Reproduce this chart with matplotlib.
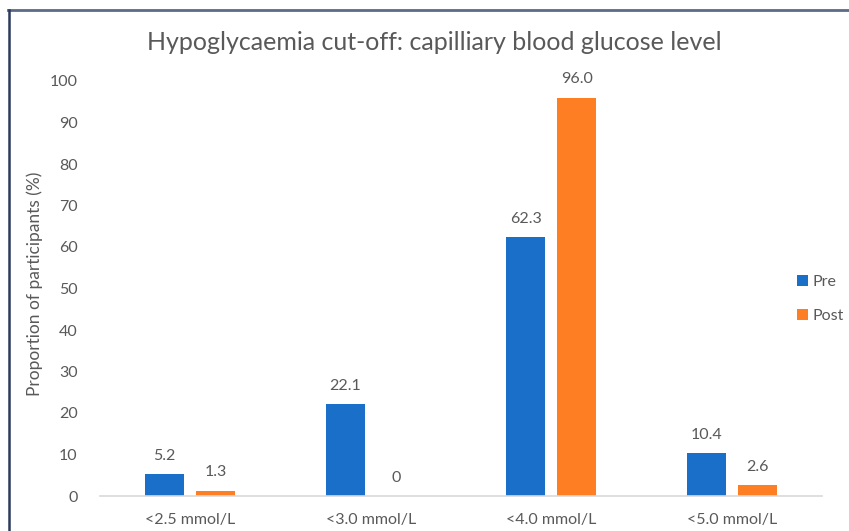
import numpy as np
import matplotlib.pyplot as plt
from matplotlib.patches import Patch
from matplotlib.lines import Line2D

plt.rcParams['font.family'] = ['Lato', 'DejaVu Sans']

categories = ['<2.5 mmol/L', '<3.0 mmol/L', '<4.0 mmol/L', '<5.0 mmol/L']
pre_values = [5.2, 22.1, 62.3, 10.4]
post_values = [1.3, 0.0, 96.0, 2.6]
pre_labels = ['5.2', '22.1', '62.3', '10.4']
post_labels = ['1.3', '0', '96.0', '2.6']
y_ticks = [0, 10, 20, 30, 40, 50, 60, 70, 80, 90, 100]

pre_color = '#1a6fc8'
post_color = '#fd7e23'
text_color = '#595959'

W, H = 849, 531
fig = plt.figure(figsize=(W / 100, H / 100), dpi=100)
ax = fig.add_axes([100 / W, 1 - 496 / H, (822 - 100) / W, (496 - 81) / H])

x = np.arange(len(categories))
bw = 0.216
off = 0.142
ax.bar(x - off, pre_values, bw, color=pre_color, label='Pre')
ax.bar(x + off, post_values, bw, color=post_color, label='Post')

for xi, v, s in zip(x - off, pre_values, pre_labels):
    ax.annotate(s, (xi, v), xytext=(0, 8), textcoords='offset points',
                ha='center', va='bottom', fontsize=11.5, color=text_color)
for xi, v, s in zip(x + off, post_values, post_labels):
    ax.annotate(s, (xi, v), xytext=(0, 8), textcoords='offset points',
                ha='center', va='bottom', fontsize=11.5, color=text_color)

ax.set_xlim(-0.5, len(categories) - 0.5)
ax.set_ylim(0, 100)
ax.set_yticks(y_ticks)
ax.set_xticks(x)
ax.set_xticklabels(categories)
ax.tick_params(axis='both', length=0, labelsize=11.5, labelcolor=text_color)
ax.tick_params(axis='y', pad=16)
ax.tick_params(axis='x', pad=12)
for side in ['top', 'right', 'left']:
    ax.spines[side].set_visible(False)
ax.spines['bottom'].set_color('#d9d9d9')
ax.spines['bottom'].set_linewidth(1.2)

ax.set_ylabel('Proportion of participants (%)', fontsize=12.5, color=text_color)
ax.yaxis.set_label_coords(-0.079, 0.511)

fig.text(434 / W, 1 - 42 / H, 'Hypoglycaemia cut-off: capilliary blood glucose level',
         ha='center', va='center', fontsize=18, color=text_color)

handles = [Patch(facecolor=pre_color, label='Pre'), Patch(facecolor=post_color, label='Post')]
fig.legend(handles=handles, loc='center left', bbox_to_anchor=(797 / W, 1 - 299 / H),
           frameon=False, fontsize=11.5, labelcolor=text_color, handlelength=0.7,
           handleheight=0.7, handletextpad=0.3, labelspacing=1.2,
           borderpad=0, borderaxespad=0)

# outer frame lines (top and left)
fig.add_artist(Line2D([8 / W, 1], [1 - 9.5 / H, 1 - 9.5 / H], color='#5b6b85', lw=2))
fig.add_artist(Line2D([8.5 / W, 8.5 / W], [0, 1 - 9.5 / H], color='#2b3b5c', lw=1.8))

fig.savefig('out.png', dpi=100)
